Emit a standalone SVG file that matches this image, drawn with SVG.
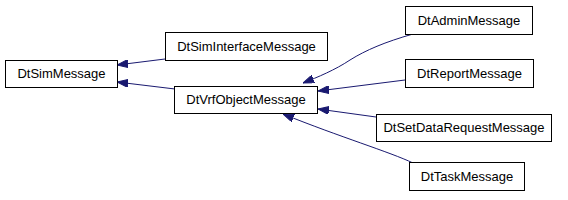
<svg xmlns="http://www.w3.org/2000/svg" width="568" height="200" viewBox="0 0 568 200">
<style>
.node rect{fill:#ffffff;stroke:#000000;stroke-width:1}
.node text{font-family:"Liberation Sans",Arial,sans-serif;font-size:13px;fill:#000000;text-anchor:middle}
.edge{fill:none;stroke:#191970;stroke-width:1;marker-end:url(#arr)}
</style>
<defs>
<marker id="arr" markerUnits="userSpaceOnUse" markerWidth="11" markerHeight="8" refX="11" refY="4" orient="auto">
<path d="M0,0 L11,4 L0,8 z" fill="#191970" stroke="#191970" stroke-width="1"/>
</marker>
</defs>
<rect width="568" height="200" fill="#ffffff"/>
<g id="edges">
<path class="edge" d="M165,59 L117,65"/>
<path class="edge" d="M175,89 L117,82"/>
<path class="edge" d="M413,34 C385,42 366,50 350,60 C335,70 318,77 303,83"/>
<path class="edge" d="M405,80 L318,91"/>
<path class="edge" d="M376,117 L318,109"/>
<path class="edge" d="M413,163 C390,152 340,137 283,114"/>
</g>
<g id="DtSimMessage" class="node"><rect x="5.5" y="60.5" width="112" height="27"/><text x="61.5" y="78">DtSimMessage</text></g>
<g id="DtSimInterfaceMessage" class="node"><rect x="165.5" y="32.5" width="162" height="28"/><text x="246.5" y="51">DtSimInterfaceMessage</text></g>
<g id="DtVrfObjectMessage" class="node"><rect x="174.5" y="86.5" width="143" height="27"/><text x="246" y="104">DtVrfObjectMessage</text></g>
<g id="DtAdminMessage" class="node"><rect x="405.5" y="6.5" width="127" height="28"/><text x="469" y="25">DtAdminMessage</text></g>
<g id="DtReportMessage" class="node"><rect x="405.5" y="59.5" width="128" height="28"/><text x="469.5" y="78">DtReportMessage</text></g>
<g id="DtSetDataRequestMessage" class="node"><rect x="376.5" y="114.5" width="175" height="27"/><text x="464" y="132">DtSetDataRequestMessage</text></g>
<g id="DtTaskMessage" class="node"><rect x="409.5" y="162.5" width="115" height="28"/><text x="467" y="181">DtTaskMessage</text></g>
</svg>
